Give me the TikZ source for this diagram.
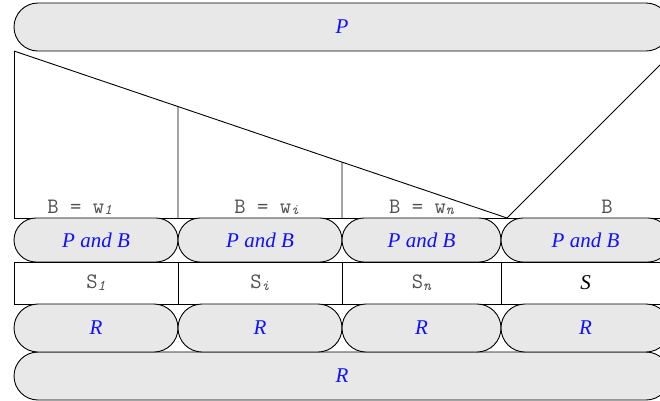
\documentclass[tikz,border=0pt]{standalone}
\usepackage{fontspec}
\setmainfont{Liberation Serif}
\usetikzlibrary{calc}
\definecolor{pillgray}{HTML}{E8E8E8}
\definecolor{txtblue}{HTML}{1010FF}
\definecolor{monogray}{HTML}{505050}
\newcommand\msub[1]{\raisebox{-0.08em}{\fontsize{15}{15}\selectfont\itshape #1}}
\tikzset{
 pill/.style={draw=black, fill=pillgray, line width=0.9pt, inner sep=0pt,
   font=\fontsize{21}{21}\selectfont\itshape, text=txtblue},
 cellbox/.style={draw=black, line width=0.9pt, inner sep=0pt, minimum height=42pt,
   font=\ttfamily\fontsize{22}{22}\selectfont, text=monogray},
 lbl/.style={inner sep=0pt, anchor=base, font=\ttfamily\fontsize{22}{22}\selectfont, text=monogray},
 edgeline/.style={draw=black, line width=0.9pt}
}
\begin{document}
\begin{tikzpicture}[x=1pt,y=-1pt]
\useasboundingbox (0,0) rectangle (660,400);
\clip (0,0) rectangle (660,400);
% triangle region
\coordinate (tl) at (14,51);
\coordinate (bl) at (14,218);
\coordinate (br) at (672,218);
\coordinate (apex) at (507,218);
\coordinate (tr) at (674,51);
\coordinate (v1t) at ($(tl)!{164/493}!(apex)$);
\coordinate (v2t) at ($(tl)!{328/493}!(apex)$);
\coordinate (v1b) at (178,218);
\coordinate (v2b) at (342,218);
\draw[edgeline] (tl) -- (bl) -- (br);
\draw[edgeline] (tl) -- (apex) -- (tr);
\draw[edgeline] (v1t) -- (v1b);
\draw[edgeline] (v2t) -- (v2b);
% labels
\node[lbl] (l1) at (79.7,213) {B = w\msub{1}};
\node[lbl] (l2) at (266.7,213) {B = w\msub{i}};
\node[lbl] (l3) at (421.5,213) {B = w\msub{n}};
\node[lbl] (l4) at (607,213) {B};
% top pill
\node[pill, rounded corners=24pt, minimum width=656pt, minimum height=48pt] (top) at (342,27) {P};
% P and B row
\node[pill, rounded corners=22pt, minimum width=164pt, minimum height=44pt] (pb1) at (96,240) {P and B};
\node[pill, rounded corners=22pt, minimum width=164pt, minimum height=44pt] (pb2) at (260,240) {P and B};
\node[pill, rounded corners=22pt, minimum width=159pt, minimum height=44pt] (pb3) at (421.5,240) {P and B};
\node[pill, rounded corners=22pt, minimum width=169pt, minimum height=44pt] (pb4) at (585.5,240) {P and B};
% S row
\node[cellbox, minimum width=164pt] (s1) at (96,283) {S\msub{1}};
\node[cellbox, minimum width=164pt] (s2) at (260,283) {S\msub{i}};
\node[cellbox, minimum width=159pt] (s3) at (421.5,283) {S\msub{n}};
\node[cellbox, minimum width=169pt, font=\fontsize{21}{21}\selectfont\itshape, text=black] (s4) at (585.5,283) {S};
% bottom pill
\node[pill, rounded corners=24pt, minimum width=656pt, minimum height=48pt] (bot) at (342,376) {R};
% R row
\node[pill, rounded corners=24pt, minimum width=164pt, minimum height=48pt] (r1) at (96,328) {R};
\node[pill, rounded corners=24pt, minimum width=164pt, minimum height=48pt] (r2) at (260,328) {R};
\node[pill, rounded corners=24pt, minimum width=159pt, minimum height=48pt] (r3) at (421.5,328) {R};
\node[pill, rounded corners=24pt, minimum width=169pt, minimum height=48pt] (r4) at (585.5,328) {R};
\end{tikzpicture}
\end{document}
